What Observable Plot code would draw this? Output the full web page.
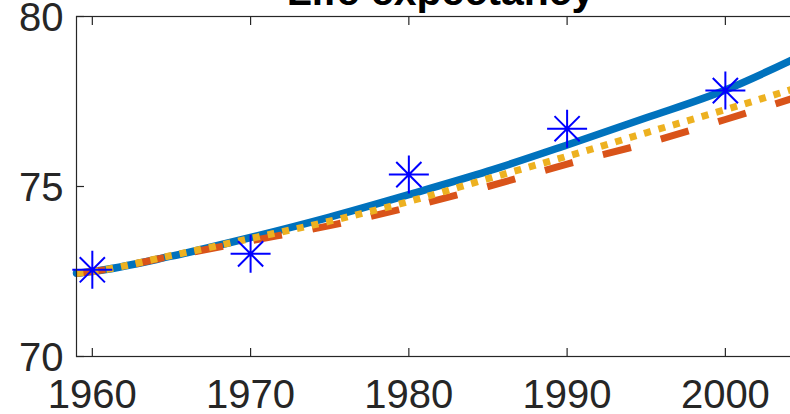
<!DOCTYPE html>
<html><head><meta charset="utf-8">
<script src="https://cdn.jsdelivr.net/npm/d3@7"></script>
<script src="https://cdn.jsdelivr.net/npm/@observablehq/plot@0.6"></script>
<style>
html,body{margin:0;padding:0;background:#fff;overflow:hidden;width:790px;height:414px}
#chart{width:804px;height:414px;overflow:hidden}
#chart svg{display:block;max-width:none !important;width:804px !important;height:414px !important}
</style></head><body><div id="chart"></div>
<script>
// fitted curves (sampled)
const years = [1959, 1960, 1965, 1970, 1975, 1980, 1985, 1990, 1995, 2000, 2005];
const fitSolid  = [72.45, 72.5, 72.95, 73.5, 74.1, 74.76, 75.45, 76.22, 77.02, 77.84, 78.9];
const fitDashed = [72.45, 72.5, 72.95, 73.4, 73.85, 74.39, 75.0, 75.66, 76.27, 76.97, 77.7];
const fitDotted = [72.45, 72.5, 72.97, 73.47, 73.98, 74.56, 75.23, 75.89, 76.58, 77.26, 77.97];
// observations
const obsYears  = [1960, 1970, 1980, 1990, 2000];
const obsValues = [72.55, 73.02, 75.35, 76.70, 77.82];
// ticks
const xTicks = [1960, 1970, 1980, 1990, 2000];
const yTicks = [70, 75, 80];
const titleText = "Life expectancy";

const toRows = (xs, ys) => xs.map((x, i) => ({x, y: ys[i]}));
const solid = toRows(years, fitSolid);
const dashed = toRows(years, fitDashed);
const dotted = toRows(years, fitDotted);
const obs = toRows(obsYears, obsValues);

// MATLAB-like 8-armed asterisk marker
const asterisk = {
  draw(ctx, size) {
    const r = Math.sqrt(size / Math.PI);
    const d = r * 0.63;
    ctx.moveTo(-r, 0); ctx.lineTo(r, 0);
    ctx.moveTo(0, -r * 0.95); ctx.lineTo(0, r * 0.95);
    ctx.moveTo(-d, -d); ctx.lineTo(d, d);
    ctx.moveTo(-d, d); ctx.lineTo(d, -d);
  }
};

const axisColor = "#262626";

const chart = Plot.plot({
  width: 804,
  height: 414,
  marginLeft: 76,
  marginRight: 0,
  marginTop: 16,
  marginBottom: 58,
  x: {domain: [1959, 2005]},
  y: {domain: [70, 80]},
  style: {fontFamily: "'Liberation Sans', Arial, Helvetica, sans-serif", color: axisColor, background: "white"},
  marks: [
    Plot.line(solid, {x: "x", y: "y", stroke: "#0072BD", strokeWidth: 7.5, curve: "monotone-x"}),
    Plot.line(dashed, {x: "x", y: "y", stroke: "#D95319", strokeWidth: 7, strokeDasharray: "29,31", strokeLinecap: "butt", curve: "monotone-x"}),
    Plot.line(dotted, {x: "x", y: "y", stroke: "#EDB120", strokeWidth: 7, strokeDasharray: "7,8", strokeLinecap: "butt", curve: "monotone-x"}),
    Plot.dot(obs, {x: "x", y: "y", symbol: asterisk, r: 20, stroke: "#0000FF", strokeWidth: 2, fill: "none"}),
    Plot.frame({stroke: axisColor, strokeWidth: 1.2}),
    // inward ticks
    Plot.axisX(xTicks, {anchor: "bottom", tickSize: 8, dy: -8, fill: "none", stroke: axisColor, strokeWidth: 1.2, label: null}),
    Plot.axisX(xTicks, {anchor: "top", tickSize: 8, dy: 8, fill: "none", stroke: axisColor, strokeWidth: 1.2, label: null}),
    Plot.axisY(yTicks, {anchor: "left", tickSize: 8, dx: 8, fill: "none", stroke: axisColor, strokeWidth: 1.2, label: null}),
    // tick labels
    Plot.axisX(xTicks, {anchor: "bottom", tickSize: 0, tickPadding: 23, fontSize: 40, tickFormat: "d", label: null, fill: axisColor}),
    Plot.axisY(yTicks, {anchor: "left", tickSize: 0, tickPadding: 13, fontSize: 40, dy: 2, label: null, fill: axisColor}),
    // title
    Plot.text([titleText], {text: d => d, frameAnchor: "top", lineAnchor: "bottom", dy: -12, fontSize: 41, fontWeight: "bold", fill: "#000"})
  ]
});
document.getElementById("chart").appendChild(chart);
</script>
</body></html>
